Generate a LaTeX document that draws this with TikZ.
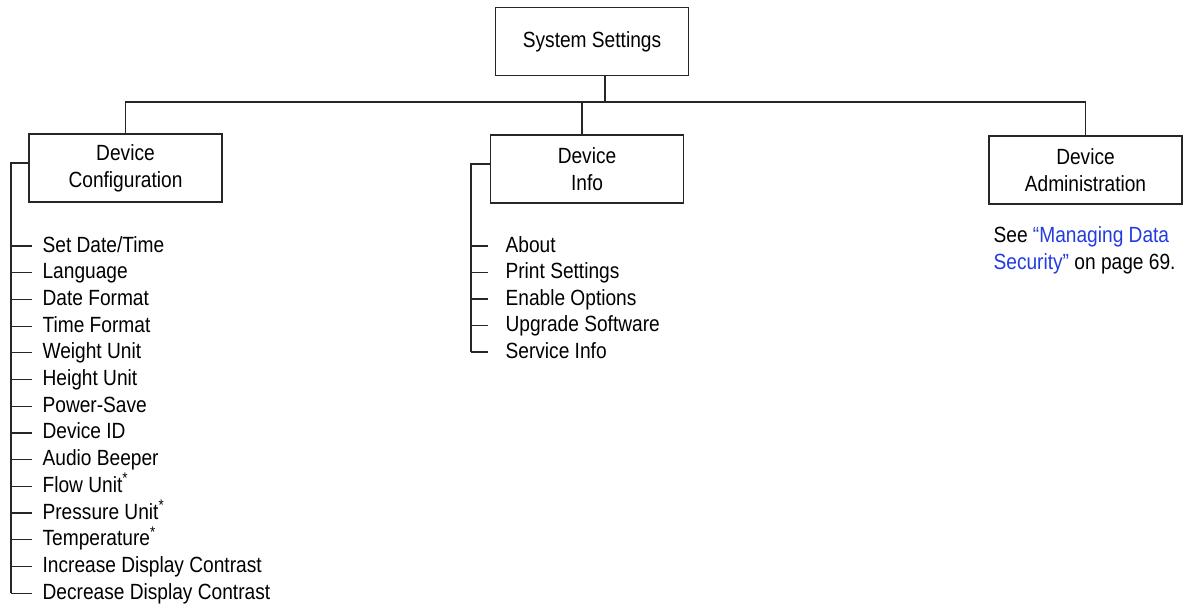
\documentclass[tikz,border=0pt]{standalone}
\usepackage{fontspec}
\setmainfont[FakeStretch=0.87]{Liberation Sans}
\usetikzlibrary{positioning}
\definecolor{linkblue}{RGB}{35,60,225}
\tikzset{
    menubox/.style={
        draw, line width=1.1pt, minimum width=144.75pt, minimum height=51pt,
        align=center, inner sep=0pt
    },
    menuitem/.style={
        anchor=west, inner sep=0pt, text height=12pt, text depth=3pt
    }
}

\begin{document}
\begin{tikzpicture}[x=0.75pt, y=-0.75pt, line width=0.9pt, draw=black!85,
    font=\fontsize{16.5}{20}\selectfont]
	\useasboundingbox (0,0) rectangle (1185,608);
	
	\node[menubox] (system) at (592,41.5) {System Settings};
	\node[menubox] (config) at (125.5,168) {Device\\Configuration};
	\node[menubox] (info) at (587,169) {Device\\Info};
	\node[menubox] (admin) at (1085.5,170) {Device\\Administration};
	
	% tree bus under the top box
	\coordinate (bus) at (0,102);
	\draw ([xshift=9.75pt]system.south) -- ([xshift=9.75pt]system.south |- bus);
	\draw (config.north) |- (bus -| admin.north) -- (admin.north);
	\draw ([xshift=-3.75pt]info.north) -- ([xshift=-3.75pt]info.north |- bus);
	
	% device configuration items
	\coordinate (cfgspine) at (11,163);
	\foreach \txt [count=\i] in {{Set Date/Time}, Language, Date Format, Time Format,
			Weight Unit, Height Unit, Power-Save, Device ID, Audio Beeper,
			Flow Unit\textsuperscript{*}, Pressure Unit\textsuperscript{*},
			Temperature\textsuperscript{*}, Increase Display Contrast,
			Decrease Display Contrast} {
			\pgfmathsetmacro{\y}{246+(\i-1)*26.7}
			\node[menuitem] (cfg\i) at (42,\y) {\txt};
			\draw (cfg\i.west -| cfgspine) -- ([xshift=-7.5pt]cfg\i.west);
	}
	\draw ([yshift=3.75pt]config.west) -- (cfgspine) -- (cfgspine |- cfg14.west);
	
	% device info items
	\coordinate (infospine) at (471,164);
	\foreach \txt [count=\i] in {About, Print Settings, Enable Options,
			Upgrade Software, Service Info} {
			\pgfmathsetmacro{\y}{246+(\i-1)*26.5}
			\node[menuitem] (inf\i) at (505,\y) {\txt};
			\draw (inf\i.west -| infospine) -- ([xshift=-12.75pt]inf\i.west);
	}
	\draw ([yshift=3.75pt]info.west) -- (infospine) -- (infospine |- inf5.west);
	
	% note under administration
	\node[anchor=north west, inner sep=0pt, align=left] (note) at (993,226)
		{See {\color{linkblue}“Managing Data}\\{\color{linkblue}Security”} on page 69.};
	
\end{tikzpicture}
\end{document}
